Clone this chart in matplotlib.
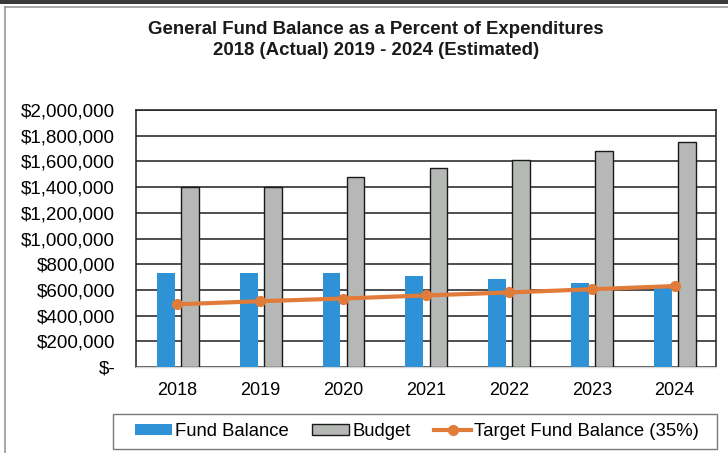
import matplotlib.pyplot as plt
from matplotlib.lines import Line2D
from matplotlib.patches import Patch, Rectangle
from matplotlib.ticker import FuncFormatter
import numpy as np

plt.rcParams["font.family"] = ["Liberation Sans", "DejaVu Sans"]

# chart data
years = ["2018", "2019", "2020", "2021", "2022", "2023", "2024"]
fund_balance = [730000, 730000, 728000, 710000, 683000, 650000, 612000]
budget = [1400000, 1400000, 1480000, 1545000, 1610000, 1683000, 1750000]
target_balance = [488000, 512000, 533000, 557000, 580000, 605000, 630000]
y_ticks = [0, 200000, 400000, 600000, 800000, 1000000, 1200000, 1400000,
           1600000, 1800000, 2000000]

blue = "#2f92d6"
grey = "#b6b8b5"
orange = "#e07b3a"

W, H = 728, 453
fig = plt.figure(figsize=(W / 100, H / 100), dpi=100)

# dark strip along the top edge and the chart frame
fig.patches.append(Rectangle((0, 1 - 4 / H), 1, 4 / H, transform=fig.transFigure,
                             facecolor="#3a3a3a", edgecolor="none"))
fig.lines.append(Line2D([5 / W, 5 / W], [0, 1 - 7 / H], transform=fig.transFigure,
                        color="#9a9a9a", lw=1.2))
fig.lines.append(Line2D([5 / W, 1], [1 - 7 / H, 1 - 7 / H], transform=fig.transFigure,
                        color="#9a9a9a", lw=1.2))

ax = fig.add_axes([136 / W, 1 - 367 / H, 580 / W, 257 / H])

x = np.arange(len(years))
bw = 0.215
ax.bar(x - 0.14, fund_balance, width=bw, color=blue, edgecolor="none", zorder=3)
ax.bar(x + 0.15, budget, width=bw, color=grey, edgecolor="#1a1a1a", linewidth=1.0,
       zorder=3)
ax.plot(x, target_balance, color=orange, lw=3, marker="o", markersize=7,
        zorder=4)

ax.set_xlim(-0.5, len(years) - 0.5)
ax.set_ylim(0, 2000000)
ax.set_yticks(y_ticks)
ax.yaxis.set_major_formatter(
    FuncFormatter(lambda v, pos: "$-" if v == 0 else f"${v:,.0f}"))
ax.set_xticks(x)
ax.set_xticklabels(years)
ax.tick_params(axis="y", length=0, pad=15, labelsize=13.5)
ax.tick_params(axis="x", length=0, pad=11, labelsize=13)

ax.grid(axis="y", color="#1e1e1e", lw=1.1, zorder=0)
ax.set_axisbelow(True)
for side in ["left", "right", "top"]:
    ax.spines[side].set_color("#1e1e1e")
    ax.spines[side].set_linewidth(1.1)
ax.spines["bottom"].set_color("#d6d6d6")
ax.spines["bottom"].set_linewidth(1.0)

fig.text(376 / W, 1 - 40 / H,
         "General Fund Balance as a Percent of Expenditures\n"
         "2018 (Actual) 2019 - 2024 (Estimated)",
         ha="center", va="center", fontsize=13.4, fontweight="bold",
         linespacing=1.38, color="#1a1a1a")

# legend box drawn separately so it can be wider than its entries
fig.patches.append(Rectangle((113 / W, 1 - 449 / H), 604 / W, 35 / H,
                             transform=fig.transFigure, facecolor="white",
                             edgecolor="#7a7a7a", linewidth=1.0))
handles = [
    Patch(facecolor=blue, edgecolor="none"),
    Patch(facecolor=grey, edgecolor="#1a1a1a", linewidth=1.0),
    Line2D([], [], color=orange, lw=3, marker="o", markersize=7),
]
labels = ["Fund Balance", "Budget", "Target Fund Balance (35%)"]
fig.legend(handles, labels, loc="center",
           bbox_to_anchor=(417 / W, 1 - 431.5 / H), ncol=3, fontsize=13.3,
           frameon=False, handlelength=2.0, handleheight=0.56,
           handletextpad=0.15, columnspacing=1.3, borderaxespad=0)

fig.savefig("out.png", dpi=100)
